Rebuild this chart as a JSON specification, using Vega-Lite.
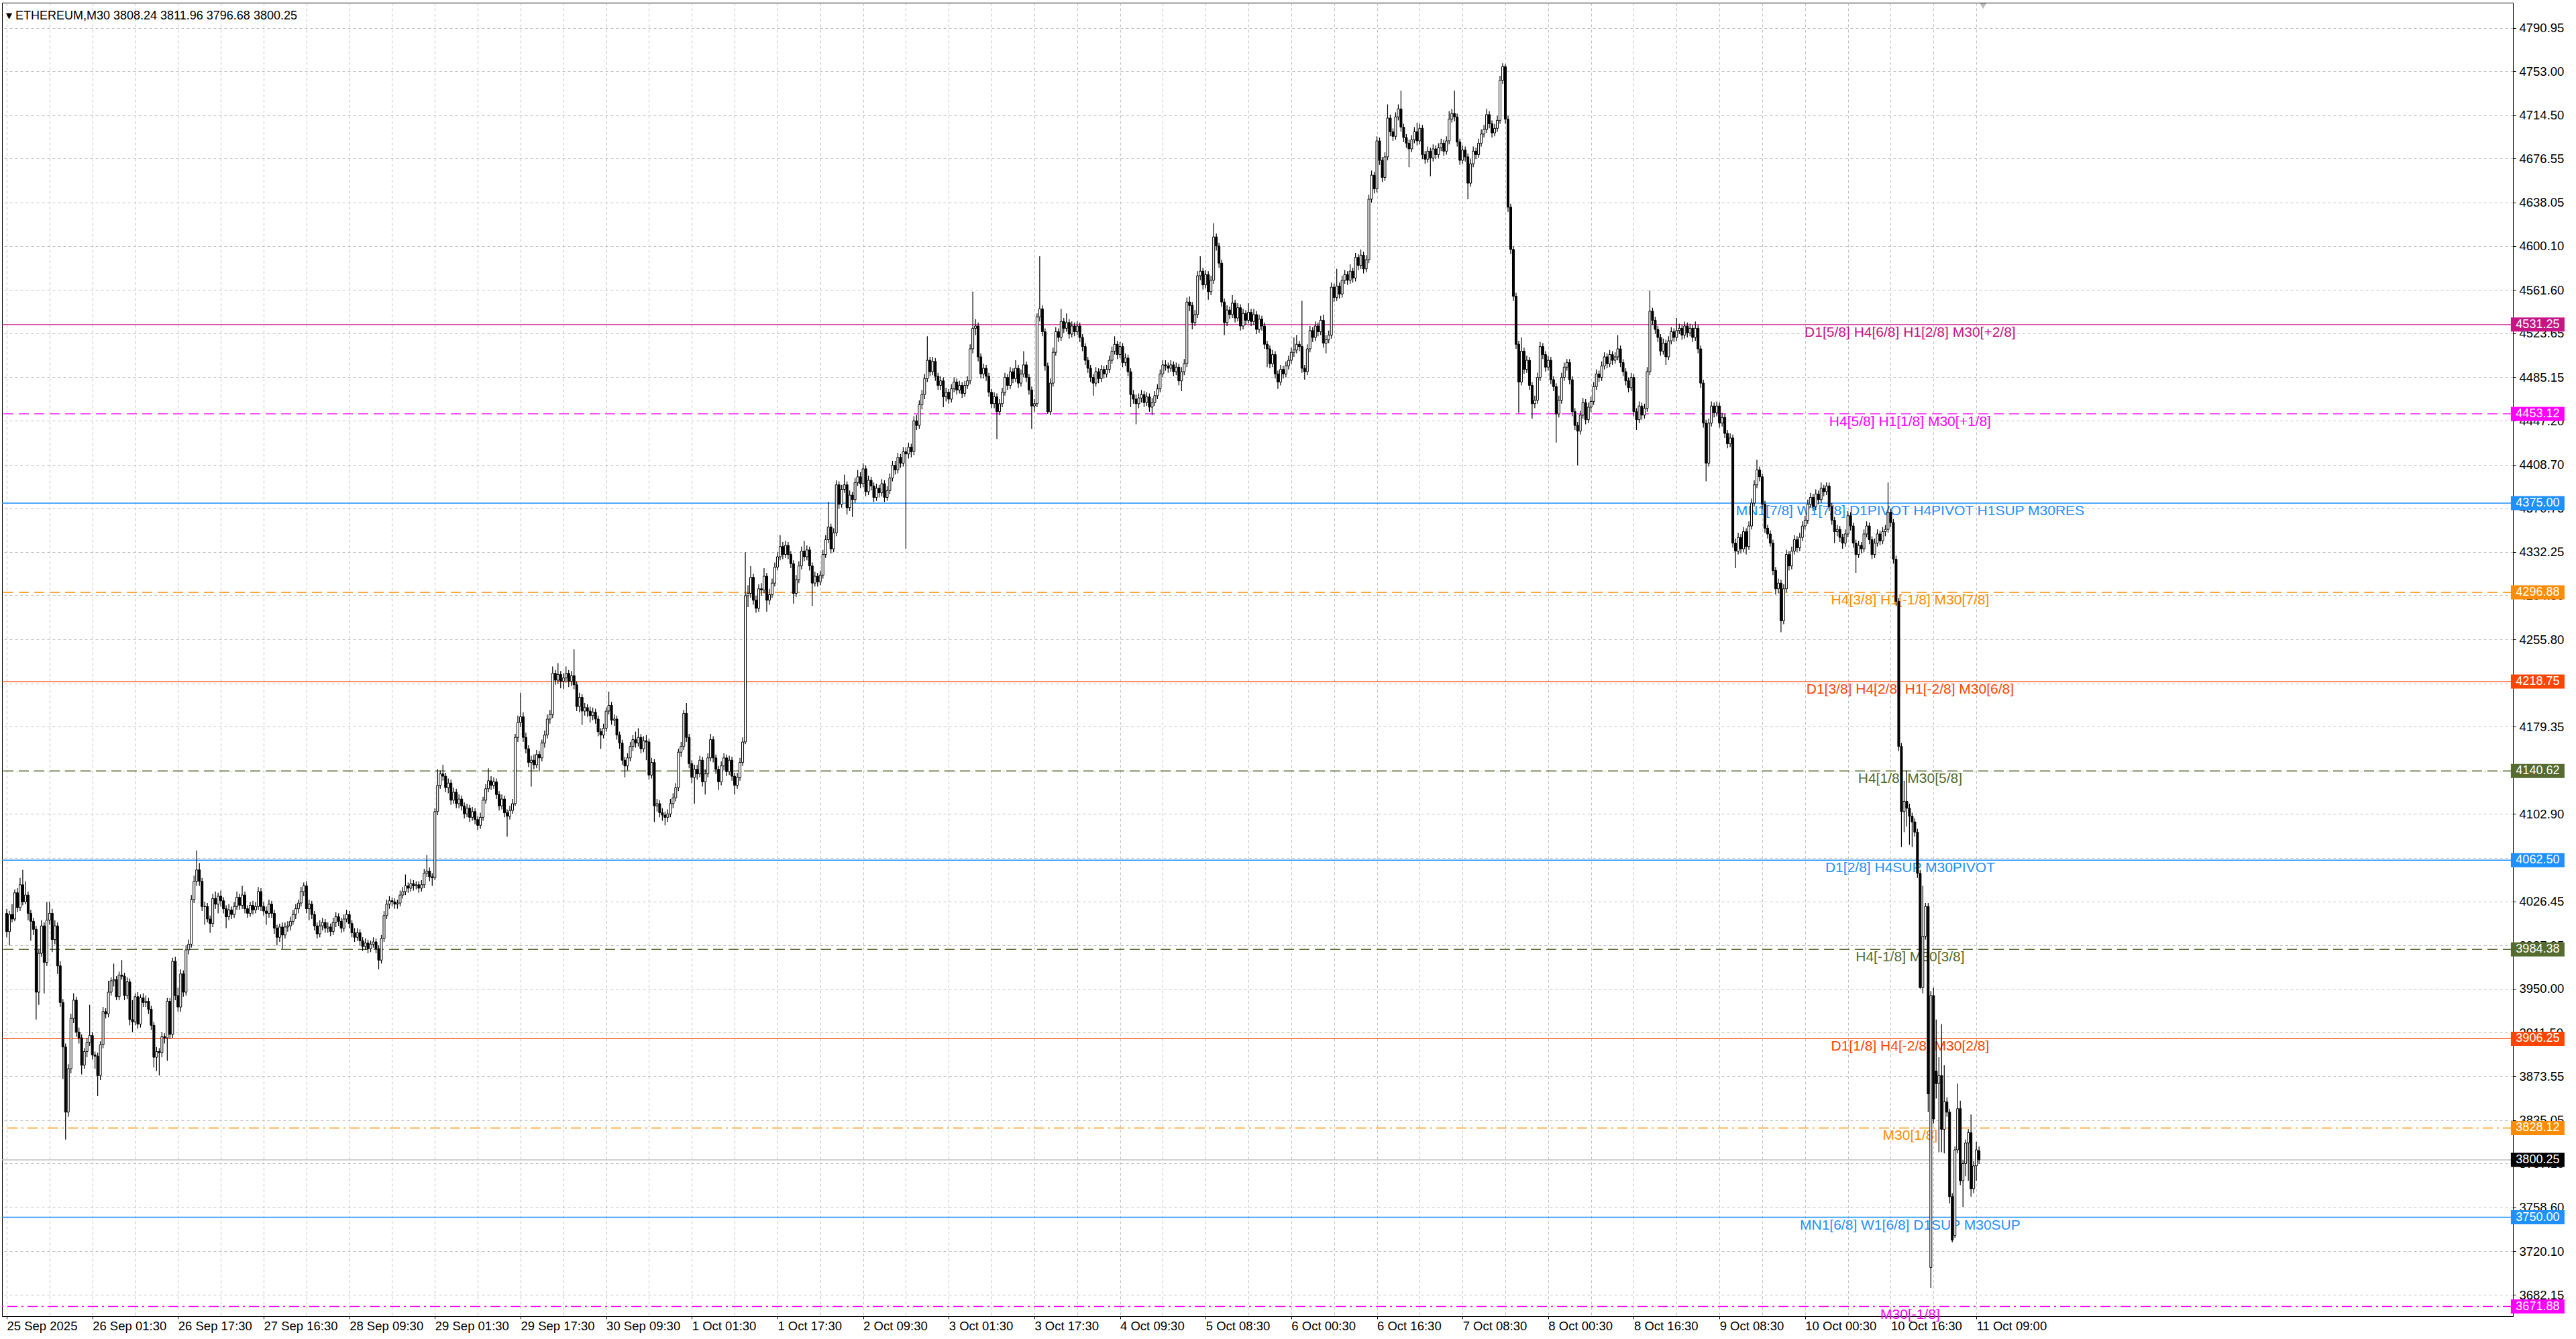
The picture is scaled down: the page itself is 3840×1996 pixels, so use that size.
{
  "$schema": "https://vega.github.io/schema/vega-lite/v6.json",
  "description": "ETHEREUM M30 candles with Murrey-style level lines",
  "width": 3743,
  "height": 1958,
  "autosize": "none",
  "padding": {"left": 3, "top": 4, "right": 94, "bottom": 34},
  "background": "#FFFFFF",
  "title": {
    "text": "▾   ETHEREUM,M30  3808.24 3811.96 3796.68 3800.25",
    "anchor": "start",
    "frame": "group",
    "orient": "top",
    "offset": -43,
    "baseline": "alphabetic",
    "dx": 6,
    "fontSize": 18,
    "font": "Liberation Sans, Arial, sans-serif",
    "fontWeight": "normal",
    "color": "#000000"
  },
  "config": {
    "view": {"stroke": "#000000", "strokeWidth": 1},
    "axis": {
      "labelFont": "Liberation Sans, Arial, sans-serif",
      "labelFontSize": 18.5,
      "labelColor": "#000000",
      "domainColor": "#000000",
      "tickColor": "#000000",
      "gridColor": "#C0C0C0",
      "gridDash": [4, 4],
      "gridWidth": 1,
      "labelOverlap": false,
      "labelFlush": false,
      "labelBound": false
    }
  },
  "datasets": {
    "levels": [
      {"v": 4531.25, "key": "4531.25", "kind": "solid", "text": "D1[5/8] H4[6/8] H1[2/8] M30[+2/8]"},
      {"v": 4453.12, "key": "4453.12", "kind": "dash", "text": "H4[5/8] H1[1/8] M30[+1/8]"},
      {"v": 4375.00, "key": "4375.00", "kind": "solid", "text": "MN1[7/8] W1[7/8] D1PIVOT H4PIVOT H1SUP M30RES"},
      {"v": 4296.88, "key": "4296.88", "kind": "dash", "text": "H4[3/8] H1[-1/8] M30[7/8]"},
      {"v": 4218.75, "key": "4218.75", "kind": "solid", "text": "D1[3/8] H4[2/8] H1[-2/8] M30[6/8]"},
      {"v": 4140.62, "key": "4140.62", "kind": "dash", "text": "H4[1/8] M30[5/8]"},
      {"v": 4062.50, "key": "4062.50", "kind": "solid", "text": "D1[2/8] H4SUP M30PIVOT"},
      {"v": 3984.38, "key": "3984.38", "kind": "dash", "text": "H4[-1/8] M30[3/8]"},
      {"v": 3906.25, "key": "3906.25", "kind": "solid", "text": "D1[1/8] H4[-2/8] M30[2/8]"},
      {"v": 3828.12, "key": "3828.12", "kind": "dashdot", "text": "M30[1/8]"},
      {"v": 3800.25, "key": "bid", "kind": "solid", "text": ""},
      {"v": 3750.00, "key": "3750.00", "kind": "solid", "text": "MN1[6/8] W1[6/8] D1SUP M30SUP"},
      {"v": 3671.88, "key": "3671.88", "kind": "dashdot", "text": "M30[-1/8]"}
    ],
    "candles": [
      {"i":0,"o":4016,"h":4020,"l":3995,"c":4000},
      {"i":1,"o":4000,"h":4018,"l":3988,"c":4015},
      {"i":2,"o":4015,"h":4024,"l":4008,"c":4011},
      {"i":3,"o":4011,"h":4037,"l":4009,"c":4034},
      {"i":4,"o":4034,"h":4038,"l":4017,"c":4021},
      {"i":5,"o":4021,"h":4047,"l":4018,"c":4041},
      {"i":6,"o":4041,"h":4054,"l":4023,"c":4026},
      {"i":7,"o":4026,"h":4044,"l":4024,"c":4032},
      {"i":8,"o":4032,"h":4035,"l":4010,"c":4016},
      {"i":9,"o":4016,"h":4019,"l":3992,"c":4009},
      {"i":10,"o":4009,"h":4012,"l":3997,"c":4002},
      {"i":11,"o":4002,"h":4005,"l":3923,"c":3947},
      {"i":12,"o":3947,"h":3984,"l":3936,"c":3981},
      {"i":13,"o":3981,"h":4010,"l":3978,"c":4005},
      {"i":14,"o":4005,"h":4008,"l":3946,"c":3973},
      {"i":15,"o":3973,"h":4026,"l":3970,"c":4010},
      {"i":16,"o":4010,"h":4026,"l":4006,"c":4016},
      {"i":17,"o":4016,"h":4020,"l":3982,"c":3993},
      {"i":18,"o":3993,"h":4010,"l":3989,"c":4005},
      {"i":19,"o":4005,"h":4008,"l":3963,"c":3970},
      {"i":20,"o":3970,"h":3974,"l":3934,"c":3938},
      {"i":21,"o":3938,"h":3941,"l":3871,"c":3899},
      {"i":22,"o":3899,"h":3902,"l":3818,"c":3842},
      {"i":23,"o":3842,"h":3884,"l":3838,"c":3880},
      {"i":24,"o":3880,"h":3928,"l":3876,"c":3924},
      {"i":25,"o":3924,"h":3946,"l":3920,"c":3940},
      {"i":26,"o":3940,"h":3943,"l":3908,"c":3912},
      {"i":27,"o":3912,"h":3916,"l":3902,"c":3907},
      {"i":28,"o":3907,"h":3910,"l":3875,"c":3883},
      {"i":29,"o":3883,"h":3898,"l":3880,"c":3895},
      {"i":30,"o":3895,"h":3907,"l":3890,"c":3903},
      {"i":31,"o":3903,"h":3936,"l":3900,"c":3909},
      {"i":32,"o":3909,"h":3912,"l":3888,"c":3892},
      {"i":33,"o":3892,"h":3895,"l":3880,"c":3891},
      {"i":34,"o":3891,"h":3894,"l":3856,"c":3874},
      {"i":35,"o":3874,"h":3904,"l":3870,"c":3901},
      {"i":36,"o":3901,"h":3934,"l":3898,"c":3930},
      {"i":37,"o":3930,"h":3933,"l":3924,"c":3928},
      {"i":38,"o":3928,"h":3957,"l":3925,"c":3947},
      {"i":39,"o":3947,"h":3960,"l":3944,"c":3957},
      {"i":40,"o":3957,"h":3972,"l":3952,"c":3958},
      {"i":41,"o":3958,"h":3961,"l":3940,"c":3943},
      {"i":42,"o":3943,"h":3965,"l":3940,"c":3962},
      {"i":43,"o":3962,"h":3975,"l":3958,"c":3961},
      {"i":44,"o":3961,"h":3964,"l":3940,"c":3944},
      {"i":45,"o":3944,"h":3960,"l":3941,"c":3956},
      {"i":46,"o":3956,"h":3959,"l":3918,"c":3923},
      {"i":47,"o":3923,"h":3940,"l":3912,"c":3921},
      {"i":48,"o":3921,"h":3946,"l":3918,"c":3943},
      {"i":49,"o":3943,"h":3947,"l":3915,"c":3919},
      {"i":50,"o":3919,"h":3945,"l":3916,"c":3942},
      {"i":51,"o":3942,"h":3946,"l":3934,"c":3938},
      {"i":52,"o":3938,"h":3944,"l":3934,"c":3939},
      {"i":53,"o":3939,"h":3942,"l":3928,"c":3932},
      {"i":54,"o":3932,"h":3935,"l":3914,"c":3918},
      {"i":55,"o":3918,"h":3921,"l":3881,"c":3890},
      {"i":56,"o":3890,"h":3899,"l":3878,"c":3895},
      {"i":57,"o":3895,"h":3898,"l":3874,"c":3894},
      {"i":58,"o":3894,"h":3912,"l":3890,"c":3908},
      {"i":59,"o":3908,"h":3911,"l":3902,"c":3907},
      {"i":60,"o":3907,"h":3942,"l":3887,"c":3939},
      {"i":61,"o":3939,"h":3942,"l":3906,"c":3910},
      {"i":62,"o":3910,"h":3977,"l":3907,"c":3974},
      {"i":63,"o":3974,"h":3978,"l":3940,"c":3944},
      {"i":64,"o":3944,"h":3951,"l":3930,"c":3934},
      {"i":65,"o":3934,"h":3967,"l":3930,"c":3963},
      {"i":66,"o":3963,"h":3966,"l":3943,"c":3947},
      {"i":67,"o":3947,"h":3988,"l":3944,"c":3984},
      {"i":68,"o":3984,"h":3993,"l":3980,"c":3989},
      {"i":69,"o":3989,"h":4032,"l":3986,"c":4028},
      {"i":70,"o":4028,"h":4049,"l":4025,"c":4044},
      {"i":71,"o":4044,"h":4071,"l":4040,"c":4054},
      {"i":72,"o":4054,"h":4060,"l":4040,"c":4044},
      {"i":73,"o":4044,"h":4047,"l":4018,"c":4022},
      {"i":74,"o":4022,"h":4026,"l":4006,"c":4022},
      {"i":75,"o":4022,"h":4025,"l":4008,"c":4011},
      {"i":76,"o":4011,"h":4014,"l":3999,"c":4007},
      {"i":77,"o":4007,"h":4033,"l":4004,"c":4029},
      {"i":78,"o":4029,"h":4035,"l":4020,"c":4024},
      {"i":79,"o":4024,"h":4034,"l":4016,"c":4031},
      {"i":80,"o":4031,"h":4036,"l":4022,"c":4027},
      {"i":81,"o":4027,"h":4030,"l":4016,"c":4020},
      {"i":82,"o":4020,"h":4023,"l":4003,"c":4013},
      {"i":83,"o":4013,"h":4024,"l":4010,"c":4019},
      {"i":84,"o":4019,"h":4022,"l":4011,"c":4015},
      {"i":85,"o":4015,"h":4026,"l":4012,"c":4022},
      {"i":86,"o":4022,"h":4035,"l":4019,"c":4030},
      {"i":87,"o":4030,"h":4033,"l":4019,"c":4023},
      {"i":88,"o":4023,"h":4040,"l":4020,"c":4032},
      {"i":89,"o":4032,"h":4035,"l":4016,"c":4020},
      {"i":90,"o":4020,"h":4023,"l":4012,"c":4016},
      {"i":91,"o":4016,"h":4026,"l":4013,"c":4023},
      {"i":92,"o":4023,"h":4027,"l":4015,"c":4019},
      {"i":93,"o":4019,"h":4026,"l":4016,"c":4022},
      {"i":94,"o":4022,"h":4039,"l":4019,"c":4035},
      {"i":95,"o":4035,"h":4038,"l":4018,"c":4022},
      {"i":96,"o":4022,"h":4026,"l":4014,"c":4018},
      {"i":97,"o":4018,"h":4022,"l":4006,"c":4016},
      {"i":98,"o":4016,"h":4028,"l":4012,"c":4024},
      {"i":99,"o":4024,"h":4027,"l":4012,"c":4016},
      {"i":100,"o":4016,"h":4019,"l":3998,"c":4003},
      {"i":101,"o":4003,"h":4006,"l":3988,"c":3995},
      {"i":102,"o":3995,"h":4007,"l":3991,"c":4004},
      {"i":103,"o":4004,"h":4008,"l":3985,"c":3997},
      {"i":104,"o":3997,"h":4008,"l":3994,"c":4004},
      {"i":105,"o":4004,"h":4009,"l":4000,"c":4005},
      {"i":106,"o":4005,"h":4013,"l":4001,"c":4009},
      {"i":107,"o":4009,"h":4019,"l":4006,"c":4015},
      {"i":108,"o":4015,"h":4024,"l":4011,"c":4020},
      {"i":109,"o":4020,"h":4028,"l":4016,"c":4025},
      {"i":110,"o":4025,"h":4039,"l":4022,"c":4035},
      {"i":111,"o":4035,"h":4043,"l":4031,"c":4040},
      {"i":112,"o":4040,"h":4044,"l":4016,"c":4020},
      {"i":113,"o":4020,"h":4028,"l":4010,"c":4024},
      {"i":114,"o":4024,"h":4027,"l":4011,"c":4015},
      {"i":115,"o":4015,"h":4018,"l":4001,"c":4005},
      {"i":116,"o":4005,"h":4008,"l":3994,"c":3998},
      {"i":117,"o":3998,"h":4010,"l":3995,"c":4005},
      {"i":118,"o":4005,"h":4012,"l":4001,"c":4008},
      {"i":119,"o":4008,"h":4011,"l":3999,"c":4003},
      {"i":120,"o":4003,"h":4008,"l":3999,"c":4004},
      {"i":121,"o":4004,"h":4007,"l":3996,"c":4000},
      {"i":122,"o":4000,"h":4012,"l":3997,"c":4008},
      {"i":123,"o":4008,"h":4017,"l":4004,"c":4013},
      {"i":124,"o":4013,"h":4016,"l":4005,"c":4009},
      {"i":125,"o":4009,"h":4012,"l":3999,"c":4003},
      {"i":126,"o":4003,"h":4015,"l":4000,"c":4011},
      {"i":127,"o":4011,"h":4019,"l":4008,"c":4015},
      {"i":128,"o":4015,"h":4018,"l":4003,"c":4007},
      {"i":129,"o":4007,"h":4010,"l":3995,"c":3999},
      {"i":130,"o":3999,"h":4003,"l":3991,"c":3995},
      {"i":131,"o":3995,"h":4003,"l":3992,"c":3999},
      {"i":132,"o":3999,"h":4002,"l":3988,"c":3992},
      {"i":133,"o":3992,"h":3995,"l":3983,"c":3987},
      {"i":134,"o":3987,"h":3994,"l":3984,"c":3990},
      {"i":135,"o":3990,"h":3993,"l":3981,"c":3985},
      {"i":136,"o":3985,"h":3992,"l":3982,"c":3989},
      {"i":137,"o":3989,"h":3995,"l":3986,"c":3991},
      {"i":138,"o":3991,"h":3994,"l":3981,"c":3985},
      {"i":139,"o":3985,"h":3988,"l":3967,"c":3975},
      {"i":140,"o":3975,"h":3997,"l":3972,"c":3994},
      {"i":141,"o":3994,"h":4018,"l":3991,"c":4014},
      {"i":142,"o":4014,"h":4028,"l":4011,"c":4024},
      {"i":143,"o":4024,"h":4031,"l":4020,"c":4027},
      {"i":144,"o":4027,"h":4030,"l":4022,"c":4026},
      {"i":145,"o":4026,"h":4029,"l":4020,"c":4024},
      {"i":146,"o":4024,"h":4028,"l":4020,"c":4025},
      {"i":147,"o":4025,"h":4036,"l":4022,"c":4032},
      {"i":148,"o":4032,"h":4039,"l":4029,"c":4035},
      {"i":149,"o":4035,"h":4050,"l":4032,"c":4040},
      {"i":150,"o":4040,"h":4043,"l":4034,"c":4038},
      {"i":151,"o":4038,"h":4046,"l":4035,"c":4042},
      {"i":152,"o":4042,"h":4045,"l":4036,"c":4040},
      {"i":153,"o":4040,"h":4044,"l":4037,"c":4041},
      {"i":154,"o":4041,"h":4044,"l":4034,"c":4038},
      {"i":155,"o":4038,"h":4045,"l":4035,"c":4041},
      {"i":156,"o":4041,"h":4055,"l":4038,"c":4051},
      {"i":157,"o":4051,"h":4067,"l":4048,"c":4053},
      {"i":158,"o":4053,"h":4056,"l":4044,"c":4048},
      {"i":159,"o":4048,"h":4051,"l":4040,"c":4047},
      {"i":160,"o":4047,"h":4108,"l":4045,"c":4105},
      {"i":161,"o":4105,"h":4142,"l":4102,"c":4128},
      {"i":162,"o":4128,"h":4141,"l":4125,"c":4138},
      {"i":163,"o":4138,"h":4146,"l":4132,"c":4136},
      {"i":164,"o":4136,"h":4139,"l":4122,"c":4126},
      {"i":165,"o":4126,"h":4134,"l":4121,"c":4130},
      {"i":166,"o":4130,"h":4133,"l":4111,"c":4115},
      {"i":167,"o":4115,"h":4126,"l":4112,"c":4122},
      {"i":168,"o":4122,"h":4125,"l":4108,"c":4112},
      {"i":169,"o":4112,"h":4120,"l":4108,"c":4116},
      {"i":170,"o":4116,"h":4119,"l":4106,"c":4110},
      {"i":171,"o":4110,"h":4113,"l":4099,"c":4103},
      {"i":172,"o":4103,"h":4112,"l":4100,"c":4108},
      {"i":173,"o":4108,"h":4111,"l":4096,"c":4100},
      {"i":174,"o":4100,"h":4109,"l":4097,"c":4105},
      {"i":175,"o":4105,"h":4108,"l":4094,"c":4098},
      {"i":176,"o":4098,"h":4101,"l":4089,"c":4093},
      {"i":177,"o":4093,"h":4104,"l":4090,"c":4100},
      {"i":178,"o":4100,"h":4118,"l":4097,"c":4115},
      {"i":179,"o":4115,"h":4129,"l":4112,"c":4125},
      {"i":180,"o":4125,"h":4143,"l":4122,"c":4132},
      {"i":181,"o":4132,"h":4136,"l":4124,"c":4128},
      {"i":182,"o":4128,"h":4135,"l":4125,"c":4131},
      {"i":183,"o":4131,"h":4134,"l":4116,"c":4120},
      {"i":184,"o":4120,"h":4123,"l":4106,"c":4110},
      {"i":185,"o":4110,"h":4120,"l":4107,"c":4116},
      {"i":186,"o":4116,"h":4119,"l":4100,"c":4104},
      {"i":187,"o":4104,"h":4107,"l":4083,"c":4101},
      {"i":188,"o":4101,"h":4110,"l":4098,"c":4106},
      {"i":189,"o":4106,"h":4116,"l":4103,"c":4112},
      {"i":190,"o":4112,"h":4173,"l":4110,"c":4170},
      {"i":191,"o":4170,"h":4189,"l":4166,"c":4183},
      {"i":192,"o":4183,"h":4209,"l":4179,"c":4188},
      {"i":193,"o":4188,"h":4192,"l":4166,"c":4170},
      {"i":194,"o":4170,"h":4174,"l":4156,"c":4160},
      {"i":195,"o":4160,"h":4163,"l":4144,"c":4148},
      {"i":196,"o":4148,"h":4154,"l":4127,"c":4150},
      {"i":197,"o":4150,"h":4155,"l":4142,"c":4146},
      {"i":198,"o":4146,"h":4159,"l":4143,"c":4155},
      {"i":199,"o":4155,"h":4158,"l":4140,"c":4152},
      {"i":200,"o":4152,"h":4168,"l":4149,"c":4165},
      {"i":201,"o":4165,"h":4176,"l":4161,"c":4172},
      {"i":202,"o":4172,"h":4190,"l":4169,"c":4186},
      {"i":203,"o":4186,"h":4194,"l":4182,"c":4190},
      {"i":204,"o":4190,"h":4232,"l":4187,"c":4226},
      {"i":205,"o":4226,"h":4229,"l":4216,"c":4220},
      {"i":206,"o":4220,"h":4235,"l":4217,"c":4225},
      {"i":207,"o":4225,"h":4228,"l":4213,"c":4219},
      {"i":208,"o":4219,"h":4226,"l":4212,"c":4222},
      {"i":209,"o":4222,"h":4232,"l":4218,"c":4226},
      {"i":210,"o":4226,"h":4229,"l":4214,"c":4219},
      {"i":211,"o":4219,"h":4228,"l":4215,"c":4224},
      {"i":212,"o":4224,"h":4247,"l":4212,"c":4216},
      {"i":213,"o":4216,"h":4219,"l":4193,"c":4197},
      {"i":214,"o":4197,"h":4209,"l":4192,"c":4205},
      {"i":215,"o":4205,"h":4208,"l":4181,"c":4193},
      {"i":216,"o":4193,"h":4200,"l":4189,"c":4196},
      {"i":217,"o":4196,"h":4199,"l":4188,"c":4193},
      {"i":218,"o":4193,"h":4197,"l":4183,"c":4189},
      {"i":219,"o":4189,"h":4196,"l":4185,"c":4192},
      {"i":220,"o":4192,"h":4195,"l":4182,"c":4186},
      {"i":221,"o":4186,"h":4189,"l":4171,"c":4175},
      {"i":222,"o":4175,"h":4178,"l":4160,"c":4172},
      {"i":223,"o":4172,"h":4182,"l":4169,"c":4178},
      {"i":224,"o":4178,"h":4196,"l":4175,"c":4193},
      {"i":225,"o":4193,"h":4210,"l":4190,"c":4198},
      {"i":226,"o":4198,"h":4201,"l":4181,"c":4185},
      {"i":227,"o":4185,"h":4190,"l":4180,"c":4186},
      {"i":228,"o":4186,"h":4189,"l":4168,"c":4172},
      {"i":229,"o":4172,"h":4175,"l":4160,"c":4165},
      {"i":230,"o":4165,"h":4168,"l":4146,"c":4150},
      {"i":231,"o":4150,"h":4153,"l":4135,"c":4145},
      {"i":232,"o":4145,"h":4156,"l":4141,"c":4152},
      {"i":233,"o":4152,"h":4166,"l":4149,"c":4162},
      {"i":234,"o":4162,"h":4172,"l":4158,"c":4168},
      {"i":235,"o":4168,"h":4175,"l":4161,"c":4165},
      {"i":236,"o":4165,"h":4178,"l":4162,"c":4170},
      {"i":237,"o":4170,"h":4173,"l":4156,"c":4160},
      {"i":238,"o":4160,"h":4171,"l":4157,"c":4167},
      {"i":239,"o":4167,"h":4172,"l":4150,"c":4166},
      {"i":240,"o":4166,"h":4169,"l":4133,"c":4137},
      {"i":241,"o":4137,"h":4152,"l":4134,"c":4148},
      {"i":242,"o":4148,"h":4151,"l":4096,"c":4110},
      {"i":243,"o":4110,"h":4116,"l":4105,"c":4112},
      {"i":244,"o":4112,"h":4115,"l":4100,"c":4104},
      {"i":245,"o":4104,"h":4108,"l":4097,"c":4102},
      {"i":246,"o":4102,"h":4105,"l":4093,"c":4100},
      {"i":247,"o":4100,"h":4107,"l":4096,"c":4103},
      {"i":248,"o":4103,"h":4116,"l":4100,"c":4112},
      {"i":249,"o":4112,"h":4121,"l":4108,"c":4117},
      {"i":250,"o":4117,"h":4130,"l":4114,"c":4126},
      {"i":251,"o":4126,"h":4160,"l":4123,"c":4157},
      {"i":252,"o":4157,"h":4166,"l":4153,"c":4162},
      {"i":253,"o":4162,"h":4194,"l":4159,"c":4191},
      {"i":254,"o":4191,"h":4200,"l":4166,"c":4170},
      {"i":255,"o":4170,"h":4173,"l":4143,"c":4147},
      {"i":256,"o":4147,"h":4150,"l":4130,"c":4135},
      {"i":257,"o":4135,"h":4146,"l":4112,"c":4142},
      {"i":258,"o":4142,"h":4146,"l":4133,"c":4138},
      {"i":259,"o":4138,"h":4154,"l":4135,"c":4150},
      {"i":260,"o":4150,"h":4153,"l":4127,"c":4131},
      {"i":261,"o":4131,"h":4142,"l":4120,"c":4138},
      {"i":262,"o":4138,"h":4156,"l":4135,"c":4152},
      {"i":263,"o":4152,"h":4173,"l":4149,"c":4168},
      {"i":264,"o":4168,"h":4171,"l":4148,"c":4152},
      {"i":265,"o":4152,"h":4155,"l":4138,"c":4142},
      {"i":266,"o":4142,"h":4145,"l":4124,"c":4131},
      {"i":267,"o":4131,"h":4149,"l":4128,"c":4145},
      {"i":268,"o":4145,"h":4156,"l":4141,"c":4152},
      {"i":269,"o":4152,"h":4155,"l":4136,"c":4140},
      {"i":270,"o":4140,"h":4154,"l":4137,"c":4150},
      {"i":271,"o":4150,"h":4153,"l":4132,"c":4136},
      {"i":272,"o":4136,"h":4139,"l":4120,"c":4128},
      {"i":273,"o":4128,"h":4139,"l":4125,"c":4135},
      {"i":274,"o":4135,"h":4152,"l":4132,"c":4148},
      {"i":275,"o":4148,"h":4170,"l":4145,"c":4166},
      {"i":276,"o":4166,"h":4332,"l":4164,"c":4294},
      {"i":277,"o":4294,"h":4303,"l":4284,"c":4296},
      {"i":278,"o":4296,"h":4320,"l":4292,"c":4310},
      {"i":279,"o":4310,"h":4313,"l":4286,"c":4290},
      {"i":280,"o":4290,"h":4294,"l":4279,"c":4283},
      {"i":281,"o":4283,"h":4304,"l":4280,"c":4300},
      {"i":282,"o":4300,"h":4305,"l":4294,"c":4299},
      {"i":283,"o":4299,"h":4318,"l":4296,"c":4311},
      {"i":284,"o":4311,"h":4314,"l":4280,"c":4290},
      {"i":285,"o":4290,"h":4300,"l":4286,"c":4295},
      {"i":286,"o":4295,"h":4309,"l":4292,"c":4305},
      {"i":287,"o":4305,"h":4323,"l":4302,"c":4319},
      {"i":288,"o":4319,"h":4332,"l":4316,"c":4328},
      {"i":289,"o":4328,"h":4347,"l":4325,"c":4337},
      {"i":290,"o":4337,"h":4341,"l":4326,"c":4330},
      {"i":291,"o":4330,"h":4342,"l":4327,"c":4338},
      {"i":292,"o":4338,"h":4341,"l":4326,"c":4330},
      {"i":293,"o":4330,"h":4333,"l":4318,"c":4322},
      {"i":294,"o":4322,"h":4325,"l":4287,"c":4296},
      {"i":295,"o":4296,"h":4312,"l":4293,"c":4308},
      {"i":296,"o":4308,"h":4324,"l":4305,"c":4320},
      {"i":297,"o":4320,"h":4337,"l":4317,"c":4333},
      {"i":298,"o":4333,"h":4342,"l":4324,"c":4328},
      {"i":299,"o":4328,"h":4338,"l":4325,"c":4334},
      {"i":300,"o":4334,"h":4337,"l":4316,"c":4320},
      {"i":301,"o":4320,"h":4323,"l":4285,"c":4305},
      {"i":302,"o":4305,"h":4315,"l":4302,"c":4311},
      {"i":303,"o":4311,"h":4314,"l":4302,"c":4306},
      {"i":304,"o":4306,"h":4316,"l":4303,"c":4312},
      {"i":305,"o":4312,"h":4334,"l":4309,"c":4330},
      {"i":306,"o":4330,"h":4347,"l":4327,"c":4343},
      {"i":307,"o":4343,"h":4376,"l":4340,"c":4354},
      {"i":308,"o":4354,"h":4357,"l":4331,"c":4335},
      {"i":309,"o":4335,"h":4353,"l":4332,"c":4349},
      {"i":310,"o":4349,"h":4395,"l":4346,"c":4391},
      {"i":311,"o":4391,"h":4394,"l":4370,"c":4374},
      {"i":312,"o":4374,"h":4391,"l":4371,"c":4387},
      {"i":313,"o":4387,"h":4400,"l":4384,"c":4391},
      {"i":314,"o":4391,"h":4394,"l":4365,"c":4371},
      {"i":315,"o":4371,"h":4386,"l":4368,"c":4382},
      {"i":316,"o":4382,"h":4385,"l":4363,"c":4378},
      {"i":317,"o":4378,"h":4397,"l":4375,"c":4393},
      {"i":318,"o":4393,"h":4404,"l":4390,"c":4398},
      {"i":319,"o":4398,"h":4402,"l":4388,"c":4392},
      {"i":320,"o":4392,"h":4410,"l":4389,"c":4405},
      {"i":321,"o":4405,"h":4408,"l":4381,"c":4385},
      {"i":322,"o":4385,"h":4399,"l":4382,"c":4395},
      {"i":323,"o":4395,"h":4398,"l":4386,"c":4390},
      {"i":324,"o":4390,"h":4393,"l":4376,"c":4380},
      {"i":325,"o":4380,"h":4392,"l":4377,"c":4388},
      {"i":326,"o":4388,"h":4391,"l":4380,"c":4384},
      {"i":327,"o":4384,"h":4396,"l":4381,"c":4392},
      {"i":328,"o":4392,"h":4395,"l":4376,"c":4380},
      {"i":329,"o":4380,"h":4390,"l":4377,"c":4386},
      {"i":330,"o":4386,"h":4401,"l":4383,"c":4397},
      {"i":331,"o":4397,"h":4412,"l":4394,"c":4408},
      {"i":332,"o":4408,"h":4412,"l":4400,"c":4404},
      {"i":333,"o":4404,"h":4419,"l":4401,"c":4415},
      {"i":334,"o":4415,"h":4418,"l":4406,"c":4410},
      {"i":335,"o":4410,"h":4424,"l":4407,"c":4420},
      {"i":336,"o":4420,"h":4424,"l":4335,"c":4418},
      {"i":337,"o":4418,"h":4428,"l":4414,"c":4424},
      {"i":338,"o":4424,"h":4427,"l":4415,"c":4420},
      {"i":339,"o":4420,"h":4451,"l":4417,"c":4447},
      {"i":340,"o":4447,"h":4452,"l":4439,"c":4443},
      {"i":341,"o":4443,"h":4465,"l":4440,"c":4461},
      {"i":342,"o":4461,"h":4474,"l":4457,"c":4470},
      {"i":343,"o":4470,"h":4488,"l":4466,"c":4484},
      {"i":344,"o":4484,"h":4521,"l":4481,"c":4500},
      {"i":345,"o":4500,"h":4503,"l":4486,"c":4490},
      {"i":346,"o":4490,"h":4503,"l":4487,"c":4499},
      {"i":347,"o":4499,"h":4502,"l":4482,"c":4486},
      {"i":348,"o":4486,"h":4489,"l":4474,"c":4478},
      {"i":349,"o":4478,"h":4486,"l":4474,"c":4482},
      {"i":350,"o":4482,"h":4485,"l":4459,"c":4468},
      {"i":351,"o":4468,"h":4476,"l":4464,"c":4472},
      {"i":352,"o":4472,"h":4475,"l":4462,"c":4466},
      {"i":353,"o":4466,"h":4479,"l":4463,"c":4475},
      {"i":354,"o":4475,"h":4485,"l":4472,"c":4481},
      {"i":355,"o":4481,"h":4484,"l":4470,"c":4474},
      {"i":356,"o":4474,"h":4482,"l":4471,"c":4478},
      {"i":357,"o":4478,"h":4481,"l":4467,"c":4471},
      {"i":358,"o":4471,"h":4482,"l":4468,"c":4478},
      {"i":359,"o":4478,"h":4486,"l":4475,"c":4482},
      {"i":360,"o":4482,"h":4514,"l":4479,"c":4510},
      {"i":361,"o":4510,"h":4560,"l":4506,"c":4528},
      {"i":362,"o":4528,"h":4536,"l":4522,"c":4530},
      {"i":363,"o":4530,"h":4533,"l":4499,"c":4503},
      {"i":364,"o":4503,"h":4506,"l":4484,"c":4488},
      {"i":365,"o":4488,"h":4497,"l":4484,"c":4493},
      {"i":366,"o":4493,"h":4496,"l":4482,"c":4486},
      {"i":367,"o":4486,"h":4489,"l":4468,"c":4472},
      {"i":368,"o":4472,"h":4475,"l":4458,"c":4462},
      {"i":369,"o":4462,"h":4472,"l":4458,"c":4468},
      {"i":370,"o":4468,"h":4471,"l":4431,"c":4455},
      {"i":371,"o":4455,"h":4466,"l":4452,"c":4462},
      {"i":372,"o":4462,"h":4476,"l":4459,"c":4472},
      {"i":373,"o":4472,"h":4489,"l":4469,"c":4485},
      {"i":374,"o":4485,"h":4488,"l":4474,"c":4478},
      {"i":375,"o":4478,"h":4494,"l":4475,"c":4490},
      {"i":376,"o":4490,"h":4493,"l":4480,"c":4484},
      {"i":377,"o":4484,"h":4500,"l":4481,"c":4493},
      {"i":378,"o":4493,"h":4496,"l":4476,"c":4480},
      {"i":379,"o":4480,"h":4492,"l":4477,"c":4488},
      {"i":380,"o":4488,"h":4508,"l":4485,"c":4496},
      {"i":381,"o":4496,"h":4499,"l":4481,"c":4485},
      {"i":382,"o":4485,"h":4488,"l":4470,"c":4474},
      {"i":383,"o":4474,"h":4477,"l":4440,"c":4460},
      {"i":384,"o":4460,"h":4466,"l":4455,"c":4462},
      {"i":385,"o":4462,"h":4541,"l":4459,"c":4538},
      {"i":386,"o":4538,"h":4591,"l":4534,"c":4545},
      {"i":387,"o":4545,"h":4548,"l":4521,"c":4525},
      {"i":388,"o":4525,"h":4528,"l":4491,"c":4495},
      {"i":389,"o":4495,"h":4498,"l":4453,"c":4455},
      {"i":390,"o":4455,"h":4484,"l":4452,"c":4480},
      {"i":391,"o":4480,"h":4511,"l":4477,"c":4507},
      {"i":392,"o":4507,"h":4529,"l":4504,"c":4525},
      {"i":393,"o":4525,"h":4528,"l":4516,"c":4520},
      {"i":394,"o":4520,"h":4545,"l":4517,"c":4534},
      {"i":395,"o":4534,"h":4537,"l":4524,"c":4528},
      {"i":396,"o":4528,"h":4541,"l":4525,"c":4533},
      {"i":397,"o":4533,"h":4536,"l":4519,"c":4523},
      {"i":398,"o":4523,"h":4534,"l":4520,"c":4530},
      {"i":399,"o":4530,"h":4533,"l":4521,"c":4525},
      {"i":400,"o":4525,"h":4534,"l":4522,"c":4530},
      {"i":401,"o":4530,"h":4533,"l":4516,"c":4520},
      {"i":402,"o":4520,"h":4523,"l":4508,"c":4512},
      {"i":403,"o":4512,"h":4515,"l":4496,"c":4500},
      {"i":404,"o":4500,"h":4503,"l":4489,"c":4493},
      {"i":405,"o":4493,"h":4496,"l":4481,"c":4485},
      {"i":406,"o":4485,"h":4488,"l":4469,"c":4480},
      {"i":407,"o":4480,"h":4494,"l":4477,"c":4490},
      {"i":408,"o":4490,"h":4493,"l":4480,"c":4484},
      {"i":409,"o":4484,"h":4496,"l":4481,"c":4492},
      {"i":410,"o":4492,"h":4495,"l":4484,"c":4488},
      {"i":411,"o":4488,"h":4496,"l":4485,"c":4492},
      {"i":412,"o":4492,"h":4504,"l":4489,"c":4500},
      {"i":413,"o":4500,"h":4512,"l":4497,"c":4508},
      {"i":414,"o":4508,"h":4521,"l":4505,"c":4514},
      {"i":415,"o":4514,"h":4517,"l":4501,"c":4505},
      {"i":416,"o":4505,"h":4516,"l":4502,"c":4512},
      {"i":417,"o":4512,"h":4515,"l":4494,"c":4498},
      {"i":418,"o":4498,"h":4506,"l":4495,"c":4502},
      {"i":419,"o":4502,"h":4505,"l":4486,"c":4490},
      {"i":420,"o":4490,"h":4493,"l":4459,"c":4470},
      {"i":421,"o":4470,"h":4474,"l":4462,"c":4466},
      {"i":422,"o":4466,"h":4470,"l":4444,"c":4462},
      {"i":423,"o":4462,"h":4471,"l":4458,"c":4467},
      {"i":424,"o":4467,"h":4474,"l":4463,"c":4470},
      {"i":425,"o":4470,"h":4473,"l":4459,"c":4463},
      {"i":426,"o":4463,"h":4472,"l":4460,"c":4468},
      {"i":427,"o":4468,"h":4471,"l":4455,"c":4459},
      {"i":428,"o":4459,"h":4467,"l":4452,"c":4463},
      {"i":429,"o":4463,"h":4473,"l":4460,"c":4469},
      {"i":430,"o":4469,"h":4479,"l":4466,"c":4475},
      {"i":431,"o":4475,"h":4492,"l":4472,"c":4488},
      {"i":432,"o":4488,"h":4500,"l":4485,"c":4496},
      {"i":433,"o":4496,"h":4500,"l":4491,"c":4495},
      {"i":434,"o":4495,"h":4498,"l":4489,"c":4493},
      {"i":435,"o":4493,"h":4500,"l":4490,"c":4496},
      {"i":436,"o":4496,"h":4499,"l":4486,"c":4490},
      {"i":437,"o":4490,"h":4498,"l":4487,"c":4494},
      {"i":438,"o":4494,"h":4497,"l":4478,"c":4482},
      {"i":439,"o":4482,"h":4494,"l":4473,"c":4490},
      {"i":440,"o":4490,"h":4501,"l":4487,"c":4497},
      {"i":441,"o":4497,"h":4555,"l":4494,"c":4551},
      {"i":442,"o":4551,"h":4556,"l":4543,"c":4548},
      {"i":443,"o":4548,"h":4551,"l":4527,"c":4533},
      {"i":444,"o":4533,"h":4544,"l":4530,"c":4540},
      {"i":445,"o":4540,"h":4578,"l":4537,"c":4574},
      {"i":446,"o":4574,"h":4591,"l":4570,"c":4578},
      {"i":447,"o":4578,"h":4581,"l":4562,"c":4566},
      {"i":448,"o":4566,"h":4579,"l":4563,"c":4575},
      {"i":449,"o":4575,"h":4578,"l":4553,"c":4560},
      {"i":450,"o":4560,"h":4574,"l":4557,"c":4570},
      {"i":451,"o":4570,"h":4620,"l":4567,"c":4608},
      {"i":452,"o":4608,"h":4611,"l":4596,"c":4600},
      {"i":453,"o":4600,"h":4603,"l":4581,"c":4585},
      {"i":454,"o":4585,"h":4588,"l":4547,"c":4551},
      {"i":455,"o":4551,"h":4554,"l":4522,"c":4533},
      {"i":456,"o":4533,"h":4548,"l":4530,"c":4544},
      {"i":457,"o":4544,"h":4547,"l":4536,"c":4540},
      {"i":458,"o":4540,"h":4557,"l":4537,"c":4550},
      {"i":459,"o":4550,"h":4553,"l":4533,"c":4537},
      {"i":460,"o":4537,"h":4550,"l":4534,"c":4546},
      {"i":461,"o":4546,"h":4549,"l":4526,"c":4530},
      {"i":462,"o":4530,"h":4545,"l":4527,"c":4541},
      {"i":463,"o":4541,"h":4544,"l":4531,"c":4535},
      {"i":464,"o":4535,"h":4550,"l":4532,"c":4542},
      {"i":465,"o":4542,"h":4545,"l":4530,"c":4534},
      {"i":466,"o":4534,"h":4545,"l":4531,"c":4540},
      {"i":467,"o":4540,"h":4543,"l":4523,"c":4527},
      {"i":468,"o":4527,"h":4540,"l":4524,"c":4536},
      {"i":469,"o":4536,"h":4539,"l":4526,"c":4530},
      {"i":470,"o":4530,"h":4533,"l":4510,"c":4514},
      {"i":471,"o":4514,"h":4517,"l":4494,"c":4510},
      {"i":472,"o":4510,"h":4513,"l":4493,"c":4497},
      {"i":473,"o":4497,"h":4509,"l":4494,"c":4505},
      {"i":474,"o":4505,"h":4508,"l":4484,"c":4488},
      {"i":475,"o":4488,"h":4491,"l":4475,"c":4481},
      {"i":476,"o":4481,"h":4496,"l":4478,"c":4492},
      {"i":477,"o":4492,"h":4495,"l":4484,"c":4488},
      {"i":478,"o":4488,"h":4499,"l":4485,"c":4495},
      {"i":479,"o":4495,"h":4504,"l":4492,"c":4500},
      {"i":480,"o":4500,"h":4511,"l":4497,"c":4507},
      {"i":481,"o":4507,"h":4520,"l":4503,"c":4509},
      {"i":482,"o":4509,"h":4522,"l":4506,"c":4514},
      {"i":483,"o":4514,"h":4517,"l":4508,"c":4512},
      {"i":484,"o":4512,"h":4552,"l":4489,"c":4493},
      {"i":485,"o":4493,"h":4496,"l":4483,"c":4490},
      {"i":486,"o":4490,"h":4514,"l":4487,"c":4510},
      {"i":487,"o":4510,"h":4530,"l":4507,"c":4526},
      {"i":488,"o":4526,"h":4529,"l":4516,"c":4520},
      {"i":489,"o":4520,"h":4534,"l":4517,"c":4530},
      {"i":490,"o":4530,"h":4533,"l":4521,"c":4525},
      {"i":491,"o":4525,"h":4539,"l":4522,"c":4535},
      {"i":492,"o":4535,"h":4540,"l":4511,"c":4515},
      {"i":493,"o":4515,"h":4522,"l":4506,"c":4518},
      {"i":494,"o":4518,"h":4526,"l":4515,"c":4522},
      {"i":495,"o":4522,"h":4568,"l":4519,"c":4564},
      {"i":496,"o":4564,"h":4567,"l":4551,"c":4555},
      {"i":497,"o":4555,"h":4580,"l":4552,"c":4565},
      {"i":498,"o":4565,"h":4568,"l":4554,"c":4558},
      {"i":499,"o":4558,"h":4574,"l":4555,"c":4570},
      {"i":500,"o":4570,"h":4579,"l":4567,"c":4575},
      {"i":501,"o":4575,"h":4578,"l":4566,"c":4570},
      {"i":502,"o":4570,"h":4584,"l":4567,"c":4578},
      {"i":503,"o":4578,"h":4581,"l":4568,"c":4572},
      {"i":504,"o":4572,"h":4594,"l":4569,"c":4590},
      {"i":505,"o":4590,"h":4593,"l":4579,"c":4583},
      {"i":506,"o":4583,"h":4597,"l":4580,"c":4592},
      {"i":507,"o":4592,"h":4595,"l":4576,"c":4580},
      {"i":508,"o":4580,"h":4592,"l":4577,"c":4588},
      {"i":509,"o":4588,"h":4645,"l":4585,"c":4641},
      {"i":510,"o":4641,"h":4666,"l":4638,"c":4662},
      {"i":511,"o":4662,"h":4665,"l":4646,"c":4650},
      {"i":512,"o":4650,"h":4696,"l":4647,"c":4692},
      {"i":513,"o":4692,"h":4695,"l":4671,"c":4675},
      {"i":514,"o":4675,"h":4678,"l":4656,"c":4660},
      {"i":515,"o":4660,"h":4682,"l":4657,"c":4678},
      {"i":516,"o":4678,"h":4724,"l":4675,"c":4712},
      {"i":517,"o":4712,"h":4715,"l":4696,"c":4700},
      {"i":518,"o":4700,"h":4703,"l":4692,"c":4696},
      {"i":519,"o":4696,"h":4717,"l":4693,"c":4713},
      {"i":520,"o":4713,"h":4724,"l":4710,"c":4720},
      {"i":521,"o":4720,"h":4736,"l":4700,"c":4704},
      {"i":522,"o":4704,"h":4707,"l":4691,"c":4695},
      {"i":523,"o":4695,"h":4698,"l":4686,"c":4690},
      {"i":524,"o":4690,"h":4693,"l":4669,"c":4685},
      {"i":525,"o":4685,"h":4697,"l":4682,"c":4693},
      {"i":526,"o":4693,"h":4704,"l":4690,"c":4700},
      {"i":527,"o":4700,"h":4708,"l":4688,"c":4692},
      {"i":528,"o":4692,"h":4707,"l":4689,"c":4703},
      {"i":529,"o":4703,"h":4706,"l":4676,"c":4680},
      {"i":530,"o":4680,"h":4683,"l":4672,"c":4676},
      {"i":531,"o":4676,"h":4687,"l":4673,"c":4683},
      {"i":532,"o":4683,"h":4686,"l":4661,"c":4677},
      {"i":533,"o":4677,"h":4689,"l":4674,"c":4685},
      {"i":534,"o":4685,"h":4688,"l":4676,"c":4680},
      {"i":535,"o":4680,"h":4690,"l":4677,"c":4686},
      {"i":536,"o":4686,"h":4694,"l":4683,"c":4690},
      {"i":537,"o":4690,"h":4693,"l":4679,"c":4683},
      {"i":538,"o":4683,"h":4696,"l":4680,"c":4692},
      {"i":539,"o":4692,"h":4718,"l":4689,"c":4711},
      {"i":540,"o":4711,"h":4720,"l":4708,"c":4716},
      {"i":541,"o":4716,"h":4736,"l":4709,"c":4713},
      {"i":542,"o":4713,"h":4716,"l":4687,"c":4691},
      {"i":543,"o":4691,"h":4694,"l":4671,"c":4675},
      {"i":544,"o":4675,"h":4688,"l":4672,"c":4684},
      {"i":545,"o":4684,"h":4687,"l":4674,"c":4678},
      {"i":546,"o":4678,"h":4681,"l":4641,"c":4655},
      {"i":547,"o":4655,"h":4676,"l":4652,"c":4672},
      {"i":548,"o":4672,"h":4687,"l":4669,"c":4683},
      {"i":549,"o":4683,"h":4686,"l":4676,"c":4680},
      {"i":550,"o":4680,"h":4694,"l":4677,"c":4690},
      {"i":551,"o":4690,"h":4702,"l":4687,"c":4698},
      {"i":552,"o":4698,"h":4706,"l":4695,"c":4702},
      {"i":553,"o":4702,"h":4720,"l":4699,"c":4715},
      {"i":554,"o":4715,"h":4718,"l":4703,"c":4707},
      {"i":555,"o":4707,"h":4710,"l":4695,"c":4699},
      {"i":556,"o":4699,"h":4707,"l":4696,"c":4703},
      {"i":557,"o":4703,"h":4714,"l":4700,"c":4710},
      {"i":558,"o":4710,"h":4749,"l":4707,"c":4745},
      {"i":559,"o":4745,"h":4760,"l":4742,"c":4757},
      {"i":560,"o":4757,"h":4759,"l":4707,"c":4711},
      {"i":561,"o":4711,"h":4714,"l":4630,"c":4634},
      {"i":562,"o":4634,"h":4637,"l":4593,"c":4597},
      {"i":563,"o":4597,"h":4600,"l":4552,"c":4556},
      {"i":564,"o":4556,"h":4559,"l":4510,"c":4514},
      {"i":565,"o":4514,"h":4517,"l":4454,"c":4481},
      {"i":566,"o":4481,"h":4520,"l":4478,"c":4508},
      {"i":567,"o":4508,"h":4511,"l":4488,"c":4492},
      {"i":568,"o":4492,"h":4504,"l":4489,"c":4500},
      {"i":569,"o":4500,"h":4503,"l":4474,"c":4478},
      {"i":570,"o":4478,"h":4481,"l":4449,"c":4462},
      {"i":571,"o":4462,"h":4469,"l":4458,"c":4465},
      {"i":572,"o":4465,"h":4489,"l":4462,"c":4485},
      {"i":573,"o":4485,"h":4516,"l":4482,"c":4512},
      {"i":574,"o":4512,"h":4515,"l":4501,"c":4505},
      {"i":575,"o":4505,"h":4508,"l":4490,"c":4494},
      {"i":576,"o":4494,"h":4504,"l":4491,"c":4500},
      {"i":577,"o":4500,"h":4503,"l":4479,"c":4483},
      {"i":578,"o":4483,"h":4486,"l":4473,"c":4477},
      {"i":579,"o":4477,"h":4480,"l":4428,"c":4453},
      {"i":580,"o":4453,"h":4469,"l":4450,"c":4465},
      {"i":581,"o":4465,"h":4489,"l":4462,"c":4485},
      {"i":582,"o":4485,"h":4498,"l":4482,"c":4494},
      {"i":583,"o":4494,"h":4501,"l":4491,"c":4498},
      {"i":584,"o":4498,"h":4501,"l":4479,"c":4483},
      {"i":585,"o":4483,"h":4486,"l":4451,"c":4455},
      {"i":586,"o":4455,"h":4458,"l":4439,"c":4443},
      {"i":587,"o":4443,"h":4446,"l":4408,"c":4438},
      {"i":588,"o":4438,"h":4456,"l":4435,"c":4452},
      {"i":589,"o":4452,"h":4467,"l":4449,"c":4463},
      {"i":590,"o":4463,"h":4466,"l":4444,"c":4448},
      {"i":591,"o":4448,"h":4463,"l":4445,"c":4459},
      {"i":592,"o":4459,"h":4468,"l":4455,"c":4464},
      {"i":593,"o":4464,"h":4481,"l":4461,"c":4477},
      {"i":594,"o":4477,"h":4492,"l":4474,"c":4488},
      {"i":595,"o":4488,"h":4491,"l":4481,"c":4485},
      {"i":596,"o":4485,"h":4499,"l":4482,"c":4495},
      {"i":597,"o":4495,"h":4507,"l":4492,"c":4503},
      {"i":598,"o":4503,"h":4506,"l":4493,"c":4497},
      {"i":599,"o":4497,"h":4509,"l":4494,"c":4505},
      {"i":600,"o":4505,"h":4508,"l":4496,"c":4500},
      {"i":601,"o":4500,"h":4507,"l":4497,"c":4503},
      {"i":602,"o":4503,"h":4522,"l":4500,"c":4510},
      {"i":603,"o":4510,"h":4513,"l":4494,"c":4498},
      {"i":604,"o":4498,"h":4501,"l":4486,"c":4490},
      {"i":605,"o":4490,"h":4493,"l":4478,"c":4482},
      {"i":606,"o":4482,"h":4485,"l":4472,"c":4476},
      {"i":607,"o":4476,"h":4489,"l":4473,"c":4485},
      {"i":608,"o":4485,"h":4488,"l":4451,"c":4455},
      {"i":609,"o":4455,"h":4458,"l":4439,"c":4448},
      {"i":610,"o":4448,"h":4464,"l":4445,"c":4460},
      {"i":611,"o":4460,"h":4463,"l":4448,"c":4452},
      {"i":612,"o":4452,"h":4462,"l":4449,"c":4458},
      {"i":613,"o":4458,"h":4494,"l":4455,"c":4490},
      {"i":614,"o":4490,"h":4561,"l":4487,"c":4543},
      {"i":615,"o":4543,"h":4546,"l":4531,"c":4535},
      {"i":616,"o":4535,"h":4538,"l":4523,"c":4527},
      {"i":617,"o":4527,"h":4530,"l":4516,"c":4520},
      {"i":618,"o":4520,"h":4523,"l":4504,"c":4508},
      {"i":619,"o":4508,"h":4519,"l":4505,"c":4515},
      {"i":620,"o":4515,"h":4518,"l":4496,"c":4503},
      {"i":621,"o":4503,"h":4521,"l":4500,"c":4517},
      {"i":622,"o":4517,"h":4529,"l":4514,"c":4525},
      {"i":623,"o":4525,"h":4528,"l":4516,"c":4520},
      {"i":624,"o":4520,"h":4537,"l":4517,"c":4526},
      {"i":625,"o":4526,"h":4532,"l":4523,"c":4528},
      {"i":626,"o":4528,"h":4531,"l":4518,"c":4522},
      {"i":627,"o":4522,"h":4534,"l":4519,"c":4530},
      {"i":628,"o":4530,"h":4533,"l":4520,"c":4524},
      {"i":629,"o":4524,"h":4532,"l":4521,"c":4528},
      {"i":630,"o":4528,"h":4531,"l":4516,"c":4520},
      {"i":631,"o":4520,"h":4534,"l":4517,"c":4528},
      {"i":632,"o":4528,"h":4531,"l":4506,"c":4510},
      {"i":633,"o":4510,"h":4513,"l":4476,"c":4480},
      {"i":634,"o":4480,"h":4483,"l":4441,"c":4445},
      {"i":635,"o":4445,"h":4448,"l":4394,"c":4410},
      {"i":636,"o":4410,"h":4449,"l":4407,"c":4445},
      {"i":637,"o":4445,"h":4464,"l":4442,"c":4460},
      {"i":638,"o":4460,"h":4463,"l":4450,"c":4454},
      {"i":639,"o":4454,"h":4464,"l":4451,"c":4460},
      {"i":640,"o":4460,"h":4463,"l":4441,"c":4445},
      {"i":641,"o":4445,"h":4454,"l":4442,"c":4450},
      {"i":642,"o":4450,"h":4453,"l":4432,"c":4436},
      {"i":643,"o":4436,"h":4439,"l":4423,"c":4427},
      {"i":644,"o":4427,"h":4436,"l":4424,"c":4432},
      {"i":645,"o":4432,"h":4435,"l":4336,"c":4340},
      {"i":646,"o":4340,"h":4344,"l":4318,"c":4333},
      {"i":647,"o":4333,"h":4349,"l":4330,"c":4345},
      {"i":648,"o":4345,"h":4348,"l":4331,"c":4335},
      {"i":649,"o":4335,"h":4354,"l":4332,"c":4350},
      {"i":650,"o":4350,"h":4353,"l":4330,"c":4337},
      {"i":651,"o":4337,"h":4359,"l":4334,"c":4355},
      {"i":652,"o":4355,"h":4379,"l":4352,"c":4375},
      {"i":653,"o":4375,"h":4395,"l":4372,"c":4391},
      {"i":654,"o":4391,"h":4413,"l":4388,"c":4404},
      {"i":655,"o":4404,"h":4407,"l":4394,"c":4398},
      {"i":656,"o":4398,"h":4401,"l":4370,"c":4374},
      {"i":657,"o":4374,"h":4377,"l":4349,"c":4353},
      {"i":658,"o":4353,"h":4356,"l":4344,"c":4348},
      {"i":659,"o":4348,"h":4351,"l":4337,"c":4340},
      {"i":660,"o":4340,"h":4343,"l":4312,"c":4316},
      {"i":661,"o":4316,"h":4319,"l":4295,"c":4300},
      {"i":662,"o":4300,"h":4309,"l":4296,"c":4305},
      {"i":663,"o":4305,"h":4308,"l":4262,"c":4272},
      {"i":664,"o":4272,"h":4304,"l":4269,"c":4300},
      {"i":665,"o":4300,"h":4334,"l":4297,"c":4330},
      {"i":666,"o":4330,"h":4333,"l":4316,"c":4320},
      {"i":667,"o":4320,"h":4337,"l":4317,"c":4333},
      {"i":668,"o":4333,"h":4347,"l":4330,"c":4343},
      {"i":669,"o":4343,"h":4346,"l":4332,"c":4336},
      {"i":670,"o":4336,"h":4349,"l":4333,"c":4345},
      {"i":671,"o":4345,"h":4359,"l":4342,"c":4355},
      {"i":672,"o":4355,"h":4364,"l":4352,"c":4360},
      {"i":673,"o":4360,"h":4378,"l":4357,"c":4374},
      {"i":674,"o":4374,"h":4384,"l":4371,"c":4380},
      {"i":675,"o":4380,"h":4383,"l":4368,"c":4372},
      {"i":676,"o":4372,"h":4387,"l":4369,"c":4383},
      {"i":677,"o":4383,"h":4386,"l":4374,"c":4378},
      {"i":678,"o":4378,"h":4393,"l":4375,"c":4388},
      {"i":679,"o":4388,"h":4391,"l":4381,"c":4385},
      {"i":680,"o":4385,"h":4393,"l":4382,"c":4390},
      {"i":681,"o":4390,"h":4393,"l":4368,"c":4372},
      {"i":682,"o":4372,"h":4375,"l":4356,"c":4360},
      {"i":683,"o":4360,"h":4363,"l":4340,"c":4350},
      {"i":684,"o":4350,"h":4356,"l":4346,"c":4352},
      {"i":685,"o":4352,"h":4355,"l":4341,"c":4345},
      {"i":686,"o":4345,"h":4348,"l":4335,"c":4340},
      {"i":687,"o":4340,"h":4352,"l":4337,"c":4348},
      {"i":688,"o":4348,"h":4368,"l":4345,"c":4364},
      {"i":689,"o":4364,"h":4367,"l":4351,"c":4355},
      {"i":690,"o":4355,"h":4358,"l":4336,"c":4340},
      {"i":691,"o":4340,"h":4343,"l":4314,"c":4330},
      {"i":692,"o":4330,"h":4342,"l":4327,"c":4338},
      {"i":693,"o":4338,"h":4341,"l":4331,"c":4335},
      {"i":694,"o":4335,"h":4352,"l":4332,"c":4348},
      {"i":695,"o":4348,"h":4359,"l":4345,"c":4355},
      {"i":696,"o":4355,"h":4358,"l":4339,"c":4343},
      {"i":697,"o":4343,"h":4346,"l":4326,"c":4330},
      {"i":698,"o":4330,"h":4344,"l":4327,"c":4340},
      {"i":699,"o":4340,"h":4352,"l":4337,"c":4348},
      {"i":700,"o":4348,"h":4351,"l":4338,"c":4342},
      {"i":701,"o":4342,"h":4354,"l":4339,"c":4350},
      {"i":702,"o":4350,"h":4356,"l":4346,"c":4352},
      {"i":703,"o":4352,"h":4393,"l":4349,"c":4367},
      {"i":704,"o":4367,"h":4370,"l":4354,"c":4358},
      {"i":705,"o":4358,"h":4361,"l":4322,"c":4326},
      {"i":706,"o":4326,"h":4329,"l":4285,"c":4289},
      {"i":707,"o":4289,"h":4292,"l":4158,"c":4162},
      {"i":708,"o":4162,"h":4165,"l":4074,"c":4105},
      {"i":709,"o":4105,"h":4132,"l":4087,"c":4114},
      {"i":710,"o":4114,"h":4141,"l":4092,"c":4108},
      {"i":711,"o":4108,"h":4112,"l":4076,"c":4101},
      {"i":712,"o":4101,"h":4104,"l":4074,"c":4096},
      {"i":713,"o":4096,"h":4099,"l":4083,"c":4087},
      {"i":714,"o":4087,"h":4090,"l":4047,"c":4051},
      {"i":715,"o":4051,"h":4054,"l":3950,"c":3951},
      {"i":716,"o":3951,"h":4040,"l":3946,"c":3996},
      {"i":717,"o":3996,"h":4025,"l":3993,"c":4022},
      {"i":718,"o":4022,"h":4025,"l":3842,"c":3858},
      {"i":719,"o":3706,"h":3948,"l":3688,"c":3944},
      {"i":720,"o":3944,"h":3951,"l":3832,"c":3836},
      {"i":721,"o":3878,"h":3923,"l":3854,"c":3867},
      {"i":722,"o":3867,"h":3890,"l":3807,"c":3874},
      {"i":723,"o":3874,"h":3919,"l":3807,"c":3827},
      {"i":724,"o":3827,"h":3883,"l":3806,"c":3851},
      {"i":725,"o":3851,"h":3855,"l":3838,"c":3842},
      {"i":726,"o":3842,"h":3845,"l":3762,"c":3768},
      {"i":727,"o":3768,"h":3771,"l":3728,"c":3730},
      {"i":728,"o":3734,"h":3812,"l":3732,"c":3809},
      {"i":729,"o":3809,"h":3867,"l":3806,"c":3845},
      {"i":730,"o":3845,"h":3852,"l":3778,"c":3782},
      {"i":731,"o":3782,"h":3800,"l":3759,"c":3797},
      {"i":732,"o":3797,"h":3818,"l":3786,"c":3815},
      {"i":733,"o":3815,"h":3827,"l":3782,"c":3824},
      {"i":734,"o":3824,"h":3840,"l":3768,"c":3775},
      {"i":735,"o":3775,"h":3799,"l":3771,"c":3795},
      {"i":736,"o":3795,"h":3816,"l":3782,"c":3809},
      {"i":737,"o":3808.24,"h":3811.96,"l":3796.68,"c":3800.25}
    ]
  },
  "layer": [
    {
      "data": {"name": "levels"},
      "mark": {"type": "rule", "strokeWidth": 1.4},
      "encoding": {
        "y": {"field": "v", "type": "quantitative", "title": null},
        "stroke": {
          "field": "key", "type": "nominal", "legend": null,
          "scale": {
            "domain": ["4531.25", "4453.12", "4375.00", "4296.88", "4218.75", "4140.62", "4062.50", "3984.38", "3906.25", "3828.12", "bid", "3750.00", "3671.88"],
            "range": ["#C71585", "#FF00FF", "#1E90FF", "#FF8C00", "#FF4500", "#556B2F", "#1E90FF", "#556B2F", "#FF4500", "#FF8C00", "#C0C0C0", "#1E90FF", "#FF00FF"]
          }
        },
        "strokeDash": {
          "field": "kind", "type": "nominal", "legend": null,
          "scale": {"domain": ["solid", "dash", "dashdot"], "range": [[1, 0], [15, 8], [15, 6, 3, 6]]}
        }
      }
    },
    {
      "data": {"name": "levels"},
      "transform": [{"filter": "datum.text != ''"}],
      "mark": {
        "type": "text", "align": "center", "baseline": "alphabetic", "dy": 18,
        "fontSize": 21, "font": "Liberation Sans, Arial, sans-serif"
      },
      "encoding": {
        "x": {"datum": 711.25, "type": "quantitative"},
        "y": {"field": "v", "type": "quantitative", "title": null},
        "text": {"field": "text", "type": "nominal"},
        "fill": {
          "field": "key", "type": "nominal", "legend": null,
          "scale": {
            "domain": ["4531.25", "4453.12", "4375.00", "4296.88", "4218.75", "4140.62", "4062.50", "3984.38", "3906.25", "3828.12", "bid", "3750.00", "3671.88"],
            "range": ["#C71585", "#FF00FF", "#1E90FF", "#FF8C00", "#FF4500", "#556B2F", "#1E90FF", "#556B2F", "#FF4500", "#FF8C00", "#000000", "#1E90FF", "#FF00FF"]
          }
        }
      }
    },
    {
      "data": {"name": "candles"},
      "mark": {"type": "rule", "color": "#000000", "strokeWidth": 1.2},
      "encoding": {
        "x": {
          "field": "i", "type": "quantitative", "title": null,
          "scale": {"domain": [-0.5, 935.25], "nice": false, "zero": false},
          "axis": {
            "orient": "bottom",
            "values": [0, 16, 32, 48, 64, 80, 96, 112, 128, 144, 160, 176, 192, 208, 224, 240, 256, 272, 288, 304, 320, 336, 352, 368, 384, 400, 416, 432, 448, 464, 480, 496, 512, 528, 544, 560, 576, 592, 608, 624, 640, 656, 672, 688, 704, 720, 736],
            "labelExpr": "datum.value % 32 == 0 ? ['25 Sep 2025','26 Sep 01:30','26 Sep 17:30','27 Sep 16:30','28 Sep 09:30','29 Sep 01:30','29 Sep 17:30','30 Sep 09:30','1 Oct 01:30','1 Oct 17:30','2 Oct 09:30','3 Oct 01:30','3 Oct 17:30','4 Oct 09:30','5 Oct 08:30','6 Oct 00:30','6 Oct 16:30','7 Oct 08:30','8 Oct 00:30','8 Oct 16:30','9 Oct 08:30','10 Oct 00:30','10 Oct 16:30','11 Oct 09:00'][round(datum.value / 32)] : ''",
            "labelAlign": "left",
            "labelBaseline": "top",
            "labelPadding": 1,
            "tickSize": 4,
            "tickOpacity": {"condition": {"test": "datum.value % 32 == 0", "value": 1}, "value": 0},
            "grid": true
          }
        },
        "y": {
          "field": "l", "type": "quantitative", "title": null,
          "scale": {"domain": [3663.41, 4812.97], "nice": false, "zero": false},
          "axis": {
            "orient": "right",
            "values": [4790.95, 4753.00, 4714.50, 4676.55, 4638.05, 4600.10, 4561.60, 4523.65, 4485.15, 4447.20, 4408.70, 4370.75, 4332.25, 4294.30, 4255.80, 4217.30, 4179.35, 4140.85, 4102.90, 4064.40, 4026.45, 3987.95, 3950.00, 3911.50, 3873.55, 3835.05, 3797.10, 3758.60, 3720.10, 3682.15],
            "format": ".2f",
            "labelAlign": "left",
            "labelBaseline": "middle",
            "labelPadding": 5,
            "tickSize": 4,
            "grid": true
          }
        },
        "y2": {"field": "h"}
      }
    },
    {
      "data": {"name": "candles"},
      "mark": {"type": "bar", "size": 3, "stroke": "#000000", "strokeWidth": 1},
      "encoding": {
        "x": {"field": "i", "type": "quantitative"},
        "y": {"field": "o", "type": "quantitative"},
        "y2": {"field": "c"},
        "fill": {"condition": {"test": "datum.c >= datum.o", "value": "#FFFFFF"}, "value": "#000000"}
      }
    },
    {
      "data": {"name": "levels"},
      "mark": {"type": "point", "shape": "M-1,-0.2625L1,-0.2625L1,0.2625L-1,0.2625Z", "size": 6400, "filled": true, "opacity": 1, "strokeWidth": 0},
      "encoding": {
        "x": {"datum": 945.75, "type": "quantitative"},
        "y": {"field": "v", "type": "quantitative"},
        "fill": {"field": "key", "type": "nominal", "legend": null}
      }
    },
    {
      "data": {"name": "levels"},
      "mark": {
        "type": "text", "align": "center", "baseline": "middle", "fontSize": 18,
        "font": "Liberation Sans, Arial, sans-serif", "color": "#FFFFFF"
      },
      "encoding": {
        "x": {"datum": 945.75, "type": "quantitative"},
        "y": {"field": "v", "type": "quantitative"},
        "text": {"field": "v", "type": "quantitative", "format": ".2f"}
      }
    },
    {
      "data": {"values": [{}]},
      "mark": {"type": "point", "shape": "triangle-down", "filled": true, "color": "#A0A0A0", "size": 90},
      "encoding": {
        "x": {"datum": 738.5, "type": "quantitative"},
        "y": {"datum": 4810, "type": "quantitative"}
      }
    }
  ]
}
